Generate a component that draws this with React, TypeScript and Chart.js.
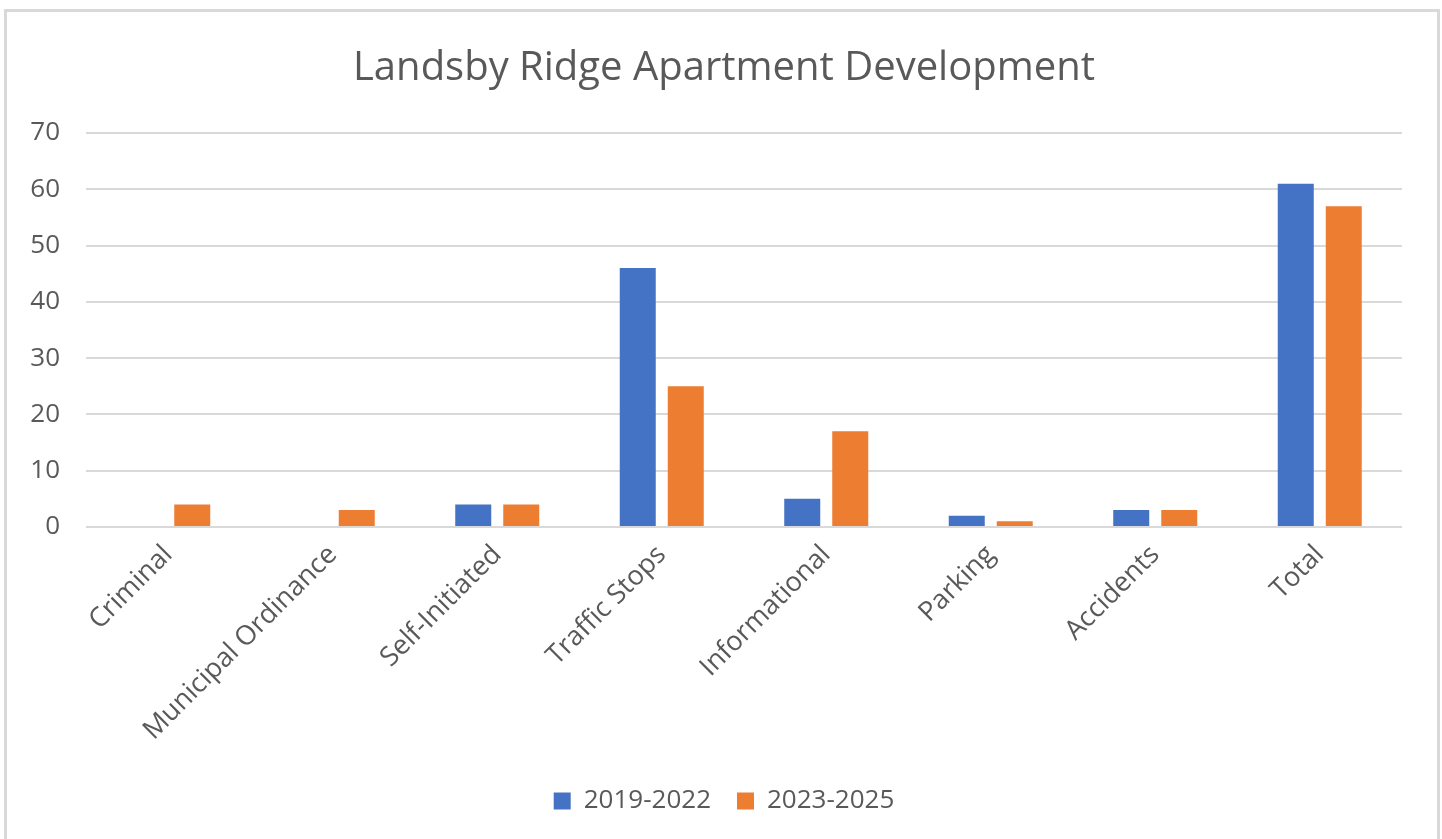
import React, { useEffect, useRef } from "react";
import { Chart, registerables } from "chart.js";

Chart.register(...registerables);

const chartTitle = "Landsby Ridge Apartment Development";
const categories = [
  "Criminal",
  "Municipal Ordinance",
  "Self-Initiated",
  "Traffic Stops",
  "Informational",
  "Parking",
  "Accidents",
  "Total",
];
const seriesNames = ["2019-2022", "2023-2025"];
const values2019to2022 = [0, 0, 4, 46, 5, 2, 3, 61];
const values2023to2025 = [4, 3, 4, 25, 17, 1, 3, 57];
const yTicks = [0, 10, 20, 30, 40, 50, 60, 70];

const BLUE = "#4472C4";
const ORANGE = "#ED7D31";
const TEXT = "#595959";
const GRID = "#d9d9d9";
const FONT = "'Open Sans', 'Noto Sans', sans-serif";

export default function App() {
  const canvasRef = useRef<HTMLCanvasElement | null>(null);

  useEffect(() => {
    const canvas = canvasRef.current;
    if (!canvas) return;
    const chart = new Chart(canvas, {
      type: "bar",
      data: {
        labels: categories,
        datasets: [
          {
            label: seriesNames[0],
            data: values2019to2022,
            backgroundColor: BLUE,
            categoryPercentage: 0.5836,
            barPercentage: 0.75,
          },
          {
            label: seriesNames[1],
            data: values2023to2025,
            backgroundColor: ORANGE,
            categoryPercentage: 0.5836,
            barPercentage: 0.75,
          },
        ],
      },
      options: {
        responsive: false,
        animation: false,
        devicePixelRatio: 1,
        layout: { padding: { left: 6, right: 0, top: 0, bottom: 15 } },
        plugins: {
          title: {
            display: true,
            text: chartTitle,
            color: TEXT,
            font: { family: FONT, size: 40, weight: "normal", lineHeight: 1.2 },
            padding: { top: 45, bottom: 40 },
          },
          legend: {
            display: true,
            position: "bottom",
            labels: {
              color: TEXT,
              font: { family: FONT, size: 26 },
              boxWidth: 17,
              boxHeight: 17,
              padding: 26,
            },
          },
          tooltip: { enabled: false },
        },
        scales: {
          x: {
            grid: { display: false, drawTicks: false },
            border: { display: false },
            ticks: {
              color: TEXT,
              font: { family: FONT, size: 27 },
              minRotation: 45,
              maxRotation: 45,
              padding: 12,
              autoSkip: false,
            },
            afterFit: (scale: any) => {
              scale.height = 235;
            },
          },
          y: {
            min: yTicks[0],
            max: yTicks[yTicks.length - 1],
            afterBuildTicks: (scale: any) => {
              scale.ticks = yTicks.map((v) => ({ value: v }));
            },
            grid: { color: GRID, lineWidth: 2, drawTicks: false },
            border: { display: false },
            ticks: {
              color: TEXT,
              font: { family: FONT, size: 26 },
              padding: 26,
            },
            afterFit: (scale: any) => {
              scale.width = 80;
            },
          },
          yRightSpacer: {
            type: "linear",
            position: "right",
            display: true,
            min: 0,
            max: 70,
            grid: { display: false, drawTicks: false },
            border: { display: false },
            ticks: { display: false },
            afterFit: (scale: any) => {
              scale.width = 40;
            },
          },
        },
      },
    });
    return () => chart.destroy();
  }, []);

  return (
    <div
      style={{
        position: "absolute",
        left: 0,
        top: 0,
        width: 1442,
        height: 839,
        overflow: "hidden",
        background: "#ffffff",
      }}
    >
      <div
        style={{
          position: "absolute",
          left: 4,
          top: 9,
          width: 1436,
          height: 900,
          border: "3px solid #d9d9d9",
          boxSizing: "border-box",
        }}
      />
      <canvas
        ref={canvasRef}
        width={1442}
        height={839}
        style={{ position: "absolute", left: 0, top: 0, width: 1442, height: 839, display: "block" }}
      />
    </div>
  );
}
